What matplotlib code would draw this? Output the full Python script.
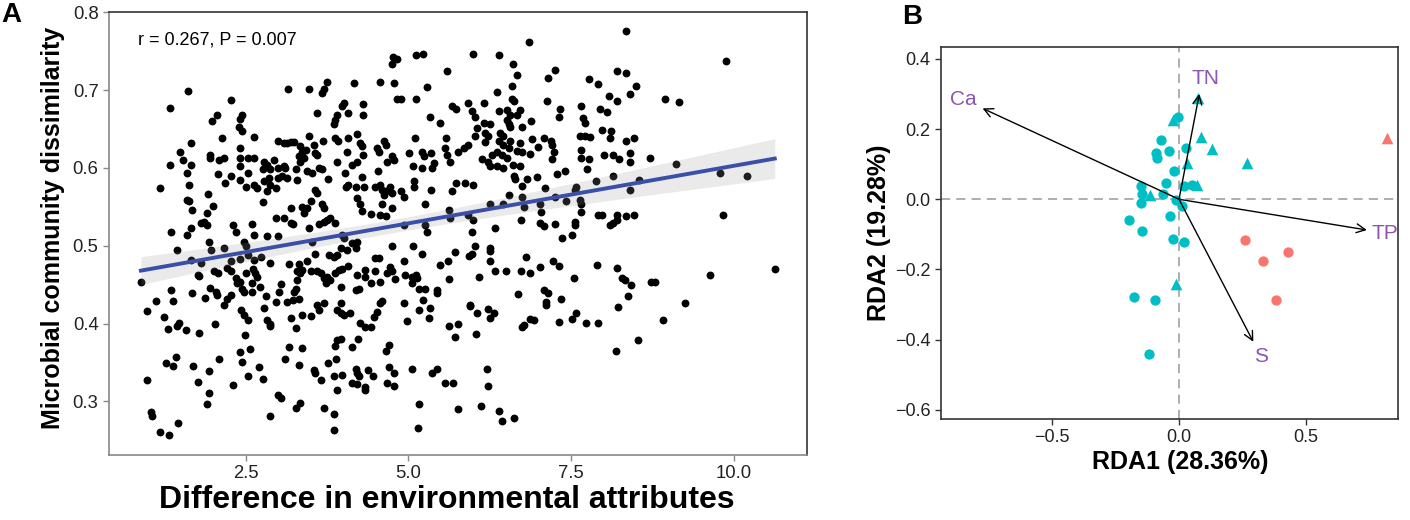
import numpy as np
import matplotlib
matplotlib.use("Agg")
import matplotlib.pyplot as plt

plt.rcParams['font.family'] = ['Liberation Sans', 'DejaVu Sans']

# ---- panel A: pairwise points (difference in env. attributes, dissimilarity)
pts_a = [
    (1.62,0.699),(1.33,0.677),(2.27,0.687),(2.06,0.668),(1.99,0.660),(2.45,0.668),(2.42,0.663),(2.39,0.653),
    (2.45,0.648),(2.14,0.638),(2.63,0.640),(1.66,0.632),(1.49,0.620),(1.54,0.610),(1.34,0.604),(1.66,0.604),
    (1.95,0.617),(1.95,0.613),(2.09,0.610),(2.17,0.613),(2.41,0.626),(2.41,0.613),(2.53,0.613),(2.63,0.613),
    (2.42,0.602),(2.53,0.593),(2.99,0.634),(3.09,0.632),(2.78,0.608),(2.83,0.604),(2.94,0.610),(2.76,0.598),
    (2.88,0.598),(2.99,0.600),(3.09,0.602),(1.60,0.593),(2.07,0.592),(2.27,0.589),(1.19,0.574),(1.63,0.578),
    (2.18,0.580),(2.42,0.585),(2.50,0.576),(2.63,0.578),(2.68,0.574),(2.78,0.583),(2.86,0.587),(2.88,0.578),
    (2.83,0.570),(2.99,0.587),(3.06,0.589),(2.96,0.574),(1.92,0.567),(1.60,0.559),(1.63,0.557),(2.76,0.556),
    (2.00,0.551),(1.68,0.546),(1.91,0.542),(1.81,0.529),(1.86,0.531),(1.91,0.527),(1.66,0.523),(1.60,0.514),
    (1.35,0.517),(2.30,0.527),(2.35,0.518),(2.60,0.528),(2.96,0.535),(3.09,0.535),(2.63,0.514),(2.83,0.513),
    (2.99,0.513),
    (1.44,0.495),(1.66,0.482),(1.81,0.478),(1.94,0.505),(1.96,0.495),(2.17,0.497),(2.47,0.505),(2.50,0.499),
    (2.53,0.488),(0.89,0.453),(1.76,0.462),(1.79,0.461),(2.01,0.468),(2.08,0.465),(2.27,0.481),(2.22,0.471),
    (2.27,0.467),(2.42,0.483),(2.63,0.482),(2.73,0.486),(2.87,0.478),(2.50,0.465),(2.62,0.470),(2.65,0.465),
    (2.68,0.460),(2.35,0.458),(2.37,0.452),(2.42,0.454),(2.60,0.452),(2.72,0.447),(2.45,0.444),(2.47,0.441),
    (2.60,0.441),(1.35,0.443),(1.67,0.439),(1.95,0.446),(2.04,0.440),(2.06,0.437),(1.88,0.433),(2.27,0.437),
    (2.21,0.431),(2.16,0.424),(1.12,0.429),(1.39,0.429),(0.98,0.416),(2.82,0.435),(2.78,0.420),(2.97,0.428),
    (3.05,0.451),(3.01,0.441),(2.43,0.417),(2.47,0.411),(2.53,0.405),(1.25,0.408),(1.30,0.393),(1.44,0.397),
    (1.48,0.401),(1.59,0.392),(1.79,0.388),(2.03,0.400),(2.83,0.404),(2.87,0.400),(2.88,0.397),(2.49,0.385),
    (2.57,0.367),(2.41,0.363),(2.45,0.350),(1.43,0.357),(1.28,0.349),(1.38,0.345),(2.09,0.354),(1.69,0.345),
    (1.94,0.339),(2.70,0.344),(2.54,0.333),(2.76,0.329),(0.98,0.327),(1.77,0.325),(2.30,0.321),(1.94,0.311),
    (1.90,0.296),(2.99,0.308),(3.04,0.304),(1.05,0.286),(1.06,0.281),(2.87,0.281),(1.46,0.272),(1.19,0.261),
    (1.32,0.257),
    (3.15,0.701),(3.48,0.701),(3.68,0.696),(3.70,0.701),(3.75,0.710),(4.17,0.709),(4.57,0.710),(4.78,0.709),
    (4.76,0.742),(4.83,0.740),(4.75,0.734),(5.11,0.745),(5.22,0.747),(5.59,0.725),(5.29,0.704),(5.11,0.689),
    (4.83,0.688),(4.89,0.688),(4.01,0.683),(3.98,0.680),(4.30,0.682),(3.60,0.671),(3.91,0.668),(3.88,0.661),
    (3.85,0.656),(4.07,0.671),(4.31,0.668),(5.34,0.666),(5.49,0.658),(5.67,0.679),(5.73,0.676),(5.92,0.683),
    (3.19,0.633),(3.24,0.633),(3.14,0.632),(3.48,0.641),(3.34,0.628),(3.37,0.621),(3.42,0.623),(3.32,0.615),
    (3.39,0.613),(3.34,0.608),(3.55,0.630),(3.56,0.619),(3.60,0.617),(3.69,0.635),(3.87,0.639),(3.92,0.634),
    (4.08,0.639),(4.21,0.644),(4.05,0.621),(4.26,0.632),(4.29,0.628),(4.31,0.617),(4.52,0.626),(4.55,0.621),
    (4.62,0.635),(4.65,0.630),(4.67,0.608),(4.75,0.615),(4.78,0.610),(5.10,0.638),(5.01,0.619),(5.21,0.620),
    (5.24,0.615),(5.35,0.619),(5.21,0.600),(5.36,0.600),(5.40,0.606),(5.07,0.602),(5.57,0.626),(5.59,0.616),
    (5.64,0.608),(5.77,0.621),(5.85,0.626),(5.92,0.630),(5.58,0.638),(3.11,0.600),(3.14,0.587),(3.27,0.598),
    (3.29,0.585),(3.45,0.596),(3.52,0.593),(3.62,0.600),(3.68,0.598),(3.77,0.586),(3.56,0.572),(3.60,0.568),
    (3.91,0.608),(4.02,0.593),(4.14,0.604),(4.21,0.608),(4.04,0.576),(4.08,0.578),(4.19,0.575),(4.32,0.575),
    (4.28,0.588),(4.53,0.596),(4.49,0.576),(4.57,0.578),(4.60,0.572),(4.65,0.570),(4.62,0.565),(4.72,0.576),
    (4.75,0.568),(4.88,0.570),(4.93,0.563),(5.08,0.583),(5.08,0.576),(5.35,0.571),(5.67,0.570),(5.73,0.580),
    (5.87,0.580),(4.21,0.561),(4.26,0.553),(4.60,0.553),(4.75,0.549),(5.26,0.553),(3.19,0.548),(3.37,0.550),
    (3.45,0.548),(3.50,0.557),(3.68,0.553),(3.70,0.548),(3.39,0.542),(4.29,0.544),(4.43,0.541),(4.57,0.539),
    (4.65,0.538),(3.62,0.528),(3.70,0.531),(3.75,0.533),(3.80,0.535),(3.88,0.529),(3.19,0.529),(3.22,0.528),
    (3.47,0.523),(3.98,0.514),(4.01,0.510),(4.93,0.527),(5.26,0.527),(5.29,0.518),(5.64,0.536),(5.62,0.546),
    (5.92,0.540),
    (3.52,0.505),(3.16,0.477),(3.32,0.477),(3.45,0.480),(3.78,0.488),(3.85,0.486),(3.91,0.488),(3.96,0.497),
    (4.06,0.495),(4.14,0.503),(4.19,0.497),(4.21,0.505),(3.56,0.490),(4.75,0.499),(5.07,0.499),(5.21,0.489),
    (5.72,0.492),(5.93,0.487),(4.49,0.484),(4.55,0.484),(4.93,0.480),(5.48,0.475),(5.61,0.481),(4.08,0.474),
    (4.21,0.463),(4.34,0.469),(4.34,0.460),(4.42,0.452),(4.48,0.467),(4.57,0.453),(4.67,0.465),(4.72,0.473),
    (4.75,0.467),(4.80,0.457),(4.95,0.462),(5.06,0.460),(5.11,0.462),(5.13,0.458),(5.06,0.452),(5.16,0.445),
    (5.26,0.445),(5.44,0.443),(5.44,0.439),(5.62,0.457),(3.29,0.467),(3.34,0.465),(3.37,0.469),(3.50,0.467),
    (3.60,0.467),(3.65,0.465),(3.70,0.458),(3.73,0.452),(3.75,0.460),(3.80,0.456),(3.88,0.465),(3.93,0.469),
    (3.98,0.470),(3.29,0.456),(3.27,0.445),(3.24,0.441),(3.96,0.447),(4.19,0.443),(4.24,0.445),(3.14,0.428),
    (3.22,0.430),(3.32,0.432),(3.60,0.424),(3.62,0.417),(3.70,0.426),(3.97,0.427),(3.91,0.417),(3.96,0.413),
    (4.01,0.411),(4.11,0.413),(3.19,0.407),(3.36,0.411),(3.50,0.410),(3.27,0.394),(4.26,0.401),(4.34,0.396),
    (4.42,0.395),(4.47,0.409),(4.52,0.415),(4.57,0.427),(4.60,0.429),(4.93,0.427),(4.98,0.403),(5.16,0.417),
    (5.23,0.430),(5.31,0.407),(5.34,0.420),(5.62,0.397),(5.76,0.399),(5.72,0.383),(5.94,0.423),(3.16,0.370),
    (3.37,0.368),(3.11,0.355),(3.32,0.347),(3.91,0.379),(3.96,0.380),(3.88,0.371),(4.14,0.370),(4.23,0.380),
    (4.65,0.365),(4.70,0.372),(3.77,0.349),(3.89,0.354),(3.55,0.340),(3.57,0.336),(3.65,0.327),(3.85,0.332),
    (3.98,0.334),(3.91,0.315),(4.19,0.342),(4.21,0.337),(4.24,0.332),(4.14,0.324),(4.21,0.322),(4.34,0.319),
    (4.33,0.314),(4.38,0.340),(4.46,0.332),(4.70,0.344),(4.78,0.336),(4.67,0.324),(4.78,0.320),(5.06,0.342),
    (5.36,0.336),(5.44,0.341),(5.57,0.323),(5.68,0.324),(3.27,0.291),(3.34,0.298),(3.70,0.291),(3.85,0.284),
    (3.85,0.263),(5.17,0.296),(5.15,0.266),(5.76,0.290),
    (5.99,0.747),(6.39,0.745),(6.86,0.762),(8.34,0.776),(6.61,0.733),(6.67,0.719),(7.14,0.716),(7.26,0.726),
    (7.78,0.714),(7.92,0.708),(8.21,0.725),(8.34,0.722),(8.50,0.705),(8.41,0.695),(8.09,0.692),(8.20,0.686),
    (6.59,0.705),(6.36,0.698),(6.16,0.683),(6.59,0.688),(6.62,0.686),(7.13,0.686),(5.98,0.673),(6.03,0.666),
    (6.39,0.673),(6.51,0.675),(6.56,0.668),(6.51,0.662),(6.67,0.668),(6.71,0.675),(7.33,0.676),(7.31,0.666),
    (7.66,0.680),(7.69,0.664),(7.72,0.658),(7.94,0.676),(8.05,0.672),(6.89,0.660),(6.54,0.656),(6.56,0.653),
    (6.74,0.653),(6.16,0.658),(6.26,0.657),(6.05,0.651),(6.03,0.641),(6.18,0.645),(6.23,0.641),(6.41,0.645),
    (6.46,0.641),(6.39,0.634),(6.46,0.630),(6.36,0.621),(6.44,0.617),(6.54,0.626),(6.56,0.634),(6.18,0.633),
    (6.28,0.617),(6.13,0.611),(6.23,0.608),(6.26,0.602),(6.51,0.613),(6.46,0.600),(6.36,0.602),(6.67,0.622),
    (6.74,0.621),(6.72,0.632),(6.90,0.637),(6.87,0.618),(6.99,0.627),(7.08,0.638),(7.19,0.634),(7.20,0.630),
    (7.24,0.620),(7.20,0.611),(6.61,0.604),(6.72,0.602),(6.62,0.590),(6.64,0.586),(6.83,0.586),(6.97,0.588),
    (6.75,0.577),(7.29,0.592),(7.40,0.596),(7.64,0.641),(7.72,0.641),(7.79,0.640),(7.65,0.623),(7.66,0.613),
    (7.77,0.612),(7.75,0.599),(7.97,0.649),(8.12,0.647),(8.10,0.639),(8.01,0.616),(8.15,0.617),(8.23,0.612),
    (8.35,0.634),(8.46,0.638),(8.40,0.619),(8.41,0.608),(8.71,0.613),(8.14,0.590),(5.99,0.578),(6.55,0.565),
    (7.10,0.574),(6.74,0.562),(6.77,0.550),(6.26,0.553),(6.46,0.553),(7.03,0.553),(7.04,0.543),(7.26,0.563),
    (7.42,0.557),(7.58,0.576),(7.56,0.571),(7.64,0.559),(7.66,0.553),(7.65,0.543),(7.88,0.583),(8.40,0.572),
    (8.55,0.585),(7.92,0.539),(7.97,0.539),(8.20,0.540),(8.20,0.533),(8.15,0.529),(8.34,0.538),(8.47,0.539),
    (6.00,0.533),(6.73,0.533),(7.03,0.529),(7.08,0.525),(7.25,0.528),(7.56,0.530),(7.56,0.527),(8.10,0.527),
    (6.33,0.523),(5.98,0.517),(7.36,0.510),(7.51,0.514),
    (6.03,0.499),(5.98,0.490),(6.26,0.497),(6.26,0.493),(6.25,0.481),(6.80,0.485),(7.22,0.480),(7.31,0.474),
    (7.90,0.475),(8.20,0.472),(7.03,0.473),(6.09,0.460),(6.33,0.467),(6.50,0.467),(6.73,0.467),(6.87,0.465),
    (7.55,0.458),(8.28,0.459),(8.33,0.456),(8.42,0.450),(8.73,0.453),(6.69,0.438),(7.09,0.443),(7.14,0.439),
    (7.11,0.428),(7.11,0.424),(7.34,0.432),(8.38,0.435),(8.22,0.421),(5.95,0.424),(6.06,0.414),(6.23,0.419),
    (6.31,0.414),(6.25,0.407),(6.87,0.406),(6.93,0.405),(6.74,0.396),(6.77,0.398),(7.31,0.402),(7.51,0.406),
    (7.58,0.414),(7.73,0.401),(7.91,0.401),(6.04,0.386),(8.53,0.379),(8.19,0.365),(6.21,0.341),(6.23,0.320),
    (6.12,0.294),(6.40,0.288),(6.44,0.275),(6.62,0.278),
    (9.88,0.737),(8.95,0.689),(9.16,0.685),(9.11,0.605),(9.79,0.593),(10.21,0.590),(9.83,0.540),(8.79,0.454),
    (8.92,0.405),(9.25,0.427),(9.63,0.463),(10.63,0.470),
]
env_diff = np.array([p[0] for p in pts_a])
dissim = np.array([p[1] for p in pts_a])
stat_text = "r = 0.267, P = 0.007"

# ---- panel B: RDA site scores and environmental vectors
cyan_circ_x = [-0.003, -0.071, -0.091, -0.088, -0.041, 0.028, -0.018, -0.053, -0.151, 0.021, 0.053, -0.145,
               -0.062, -0.151, -0.012, 0.010, -0.196, -0.035, -0.145, -0.022, 0.020, -0.178, -0.095, -0.118]
cyan_circ_y = [0.235, 0.169, 0.131, 0.117, 0.137, 0.145, 0.080, 0.045, 0.039, 0.039, 0.041, 0.014,
               0.015, -0.011, -0.002, -0.018, -0.059, -0.048, -0.089, -0.113, -0.1225, -0.279, -0.287, -0.442]
cyan_tri_x = [-0.025, 0.033, -0.114, 0.070, 0.076, 0.087, 0.130, 0.268, -0.012]
cyan_tri_y = [0.226, 0.102, 0.012, 0.041, 0.288, 0.177, 0.142, 0.104, -0.241]
red_circ_x = [0.260, 0.431, 0.330, 0.383]
red_circ_y = [-0.116, -0.149, -0.175, -0.287]
red_tri_x = [0.82]
red_tri_y = [0.175]

env_names = ["Ca", "TN", "TP", "S"]
env_x = [-0.775, 0.08, 0.741, 0.293]
env_y = [0.259, 0.30, -0.0875, -0.406]
lab_x = [-0.852, 0.103, 0.813, 0.322]
lab_y = [0.284, 0.345, -0.097, -0.448]

fig = plt.figure(figsize=(14.1, 5.2), dpi=100)
axA = fig.add_axes([0.0773, 0.125, 0.4948, 0.8513])
axB = fig.add_axes([0.6672, 0.1942, 0.3245, 0.716])

# ---------- A
axA.scatter(env_diff, dissim, s=32, color="black", lw=0, zorder=2)
slope, icpt = np.polyfit(env_diff, dissim, 1)
xs = np.linspace(env_diff.min(), env_diff.max(), 100)
n = len(env_diff)
resid = dissim - (slope * env_diff + icpt)
s_err = np.sqrt(np.sum(resid ** 2) / (n - 2))
sxx = np.sum((env_diff - env_diff.mean()) ** 2)
se = s_err * np.sqrt(1 / n + (xs - env_diff.mean()) ** 2 / sxx)
fit = slope * xs + icpt
axA.fill_between(xs, fit - 1.965 * se, fit + 1.965 * se, color="#999999", alpha=0.2, lw=0, zorder=3)
axA.plot(xs, fit, color="#3A50A8", lw=2.8, zorder=4)

axA.set_xlim(0.40, 11.12)
axA.set_ylim(0.231, 0.8)
axA.set_xticks([2.5, 5.0, 7.5, 10.0])
axA.set_xticklabels(["2.5", "5.0", "7.5", "10.0"])
axA.set_yticks([0.3, 0.4, 0.5, 0.6, 0.7, 0.8])
axA.set_yticklabels(["0.3", "0.4", "0.5", "0.6", "0.7", "0.8"])
axA.text(0.0416, 0.937, stat_text, transform=axA.transAxes, ha="left", va="center",
         fontsize=13, color="black")
for side in ["top", "right"]:
    axA.spines[side].set_color("#333333")
for side in ["left", "bottom"]:
    axA.spines[side].set_color("#888888")
for sp in axA.spines.values():
    sp.set_linewidth(1.2)
axA.tick_params(length=4, color="#888888", labelsize=13.3, labelcolor="#222222", width=1)

fig.text(53 / 1410, 1 - 228 / 520, "Microbial community dissimilarity", rotation=90,
         ha="center", va="center", fontsize=18, fontweight="bold")
fig.text(447 / 1410, 1 - 500 / 520, "Difference in environmental attributes",
         ha="center", va="center", fontsize=23, fontweight="bold")
fig.text(11 / 1410, 1 - 15 / 520, "A", ha="center", va="center", fontsize=20, fontweight="bold")

# ---------- B
axB.axhline(0, color="#999999", lw=1.1, ls=(0, (6, 4)), zorder=1)
axB.axvline(0, color="#999999", lw=1.1, ls=(0, (6, 4)), zorder=1)
axB.scatter(cyan_circ_x, cyan_circ_y, s=55, marker="o", color="#00BFC4", lw=0, zorder=2)
axB.scatter(cyan_tri_x, cyan_tri_y, s=70, marker="^", color="#00BFC4", lw=0, zorder=2)
axB.scatter(red_circ_x, red_circ_y, s=55, marker="o", color="#F8766D", lw=0, zorder=2)
axB.scatter(red_tri_x, red_tri_y, s=70, marker="^", color="#F8766D", lw=0, zorder=2)
for name, ex, ey, tx, ty in zip(env_names, env_x, env_y, lab_x, lab_y):
    axB.annotate("", xy=(ex, ey), xytext=(0, 0),
                 arrowprops=dict(arrowstyle="->", color="black", lw=1.0, mutation_scale=16,
                                 shrinkA=0, shrinkB=0), zorder=3)
    axB.text(tx, ty, name, color="#8B55B5", fontsize=15, ha="center", va="center")

axB.set_xlim(-0.940, 0.865)
axB.set_ylim(-0.626, 0.4347)
axB.set_xticks([-0.5, 0.0, 0.5])
axB.set_xticklabels(["\u22120.5", "0.0", "0.5"])
axB.set_yticks([-0.6, -0.4, -0.2, 0.0, 0.2, 0.4])
axB.set_yticklabels(["\u22120.6", "\u22120.4", "\u22120.2", "0.0", "0.2", "0.4"])
for sp in axB.spines.values():
    sp.set_color("#333333")
    sp.set_linewidth(1.2)
axB.tick_params(length=4, color="#333333", labelsize=13, labelcolor="#222222", width=1)

fig.text(1180 / 1410, 1 - 462 / 520, "RDA1 (28.36%)", ha="center", va="center",
         fontsize=18, fontweight="bold")
fig.text(879 / 1410, 1 - 233 / 520, "RDA2 (19.28%)", rotation=90, ha="center", va="center",
         fontsize=18, fontweight="bold")
fig.text(912 / 1410, 1 - 17 / 520, "B", ha="center", va="center", fontsize=20, fontweight="bold")

fig.savefig("out.png", dpi=100)
